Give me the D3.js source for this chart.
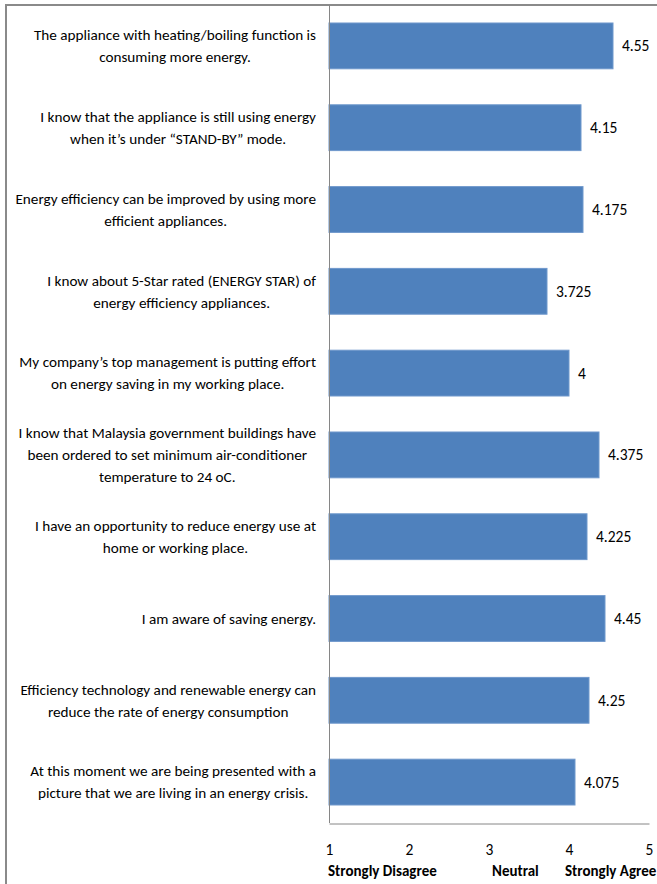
<!DOCTYPE html>
<html>
<head>
<meta charset="utf-8">
<script src="https://cdn.jsdelivr.net/npm/d3@7"></script>
<style>
  html, body { margin: 0; padding: 0; background: #fff; }
  svg { display: block; }
  text { font-family: Carlito, "Liberation Sans Narrow", "Arial Narrow", "Open Sans", sans-serif; fill: #000; }
</style>
</head>
<body>
<svg id="chart" width="657" height="884"></svg>
<script>
// Survey statements (top to bottom), each split into its printed lines
const statements = [
  ["The appliance with heating/boiling function is", "consuming more energy."],
  ["I know that the appliance is still using energy", "when it\u2019s under \u201cSTAND-BY\u201d mode."],
  ["Energy efficiency can be improved by using more", "efficient appliances."],
  ["I know about 5-Star rated (ENERGY STAR) of", "energy efficiency appliances."],
  ["My company\u2019s top management is putting effort", "on energy saving in my working place."],
  ["I know that Malaysia government buildings have", "been ordered to set minimum air-conditioner", "temperature to 24 oC."],
  ["I have an opportunity to reduce energy use at", "home or working place."],
  ["I am aware of saving energy."],
  ["Efficiency technology and renewable energy can", "reduce the rate of energy consumption"],
  ["At this moment we are being presented with a", "picture that we are living in an energy crisis."]
];

// Mean agreement scores on the 1-5 Likert scale
const meanScores = [4.55, 4.15, 4.175, 3.725, 4, 4.375, 4.225, 4.45, 4.25, 4.075];

// Axis ticks and the scale anchors printed beneath them
const scaleTicks = [1, 2, 3, 4, 5];
const anchorLabels = [
  { value: 1, text: "Strongly Disagree", shift: -1 },
  { value: 3, text: "Neutral", shift: 3 },
  { value: 4, text: "Strongly Agree", shift: -4 }
];

const svg = d3.select("#chart");

const plot = { left: 329, right: 649, top: 5, bottom: 823 };
const ids = d3.range(statements.length);
const labelSize = 15.2;

const x = d3.scaleLinear().domain([1, 5]).range([plot.left, plot.right]);
const y = d3.scaleBand().domain(ids).range([plot.top, plot.bottom]).paddingInner(0.44).paddingOuter(0.22);

// Outer frame (top and left edges visible)
svg.append("line").attr("x1", 6).attr("x2", 657).attr("y1", 5).attr("y2", 5)
  .attr("stroke", "#8a8a8a").attr("stroke-width", 2);
svg.append("line").attr("x1", 6).attr("x2", 6).attr("y1", 4).attr("y2", 884)
  .attr("stroke", "#8a8a8a").attr("stroke-width", 2);

// Bars
svg.append("g").selectAll("rect").data(ids).join("rect")
  .attr("x", x(1))
  .attr("y", i => y(i))
  .attr("width", i => x(meanScores[i]) - x(1))
  .attr("height", y.bandwidth())
  .attr("fill", "#4f81bd")
  .attr("stroke", "#6f98cc")
  .attr("stroke-width", 1);

// Value labels
svg.append("g").selectAll("text").data(ids).join("text")
  .attr("x", i => x(meanScores[i]) + 9)
  .attr("y", i => y(i) + y.bandwidth() / 2)
  .attr("dy", "0.35em")
  .attr("font-size", 15.5)
  .text(i => String(meanScores[i]));

// Category axis line
svg.append("line").attr("x1", plot.left + 0.5).attr("x2", plot.left + 0.5)
  .attr("y1", plot.top).attr("y2", plot.bottom)
  .attr("stroke", "#868686");

// Statement labels: block right-aligned to the axis, lines centred within the block
const lineH = 22;
const labelRight = 316;
const labels = svg.append("g");
ids.forEach(i => {
  const lines = statements[i];
  const g = labels.append("g");
  const texts = lines.map((ln, k) => g.append("text")
    .attr("font-size", labelSize)
    .attr("text-anchor", "middle")
    .attr("y", y(i) + y.bandwidth() / 2 + (k - (lines.length - 1) / 2) * lineH)
    .attr("dy", "0.35em")
    .text(ln));
  const maxW = d3.max(texts, t => t.node().getComputedTextLength());
  texts.forEach(t => t.attr("x", labelRight - maxW / 2));
});

// Value axis
const xAxis = svg.append("g")
  .attr("transform", `translate(0,${plot.bottom + 0.5})`)
  .call(d3.axisBottom(x).tickValues(scaleTicks).tickSize(0).tickPadding(20).tickFormat(d3.format("d")));
xAxis.select(".domain").attr("stroke", "#868686");
xAxis.selectAll("text").attr("font-size", 15.5).attr("font-family", null).attr("fill", "#000");

// Scale anchor words
svg.append("g").selectAll("text").data(anchorLabels).join("text")
  .attr("x", d => x(d.value) + d.shift)
  .attr("y", 876)
  .attr("font-size", 15)
  .attr("font-weight", "bold")
  .text(d => d.text);
</script>
</body>
</html>
